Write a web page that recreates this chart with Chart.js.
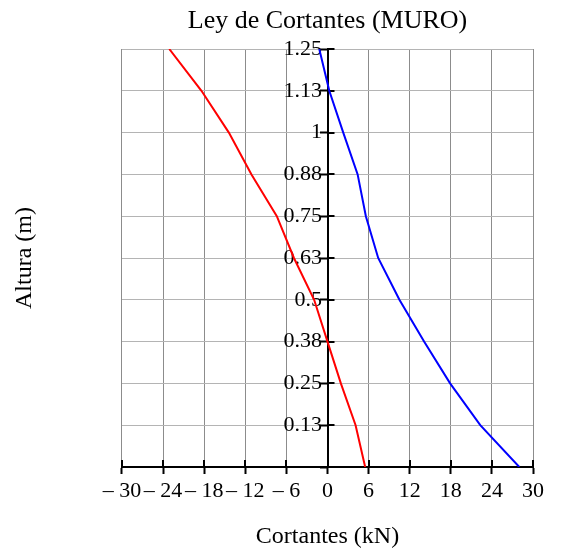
<!DOCTYPE html>
<html>
<head>
<meta charset="utf-8">
<script src="https://cdn.jsdelivr.net/npm/chart.js@4"></script>
<style>
  html, body { margin: 0; padding: 0; background: #fff; }
  #wrap { width: 566px; height: 551px; }
</style>
</head>
<body>
<div id="wrap"><canvas id="graphCortantes"></canvas></div>
<script>
    // alturas (m) y cortantes (kN)
    const alturas = [0, 0.125, 0.25, 0.375, 0.5, 0.625, 0.75, 0.875, 1.0, 1.125, 1.25]
    const cortanteRojo = [5.5, 4.1, 1.95, 0, -1.95, -4.9, -7.4, -11.1, -14.4, -18.4, -23.1]
    const cortanteAzul = [28.0, 22.3, 17.9, 14.1, 10.5, 7.4, 5.6, 4.4, 2.3, 0.26, -1.2]

    const xTickLabels = ['\u2013 30', '\u2013 24', '\u2013 18', '\u2013 12', '\u2013 6', '0', '6', '12', '18', '24', '30']
    const yTickLabels = ['', '0.13', '0.25', '0.38', '0.5', '0.63', '0.75', '0.88', '1', '1.13', '1.25']

    const toPoints = values => values.map((v, i) => ({ x: v, y: alturas[i] }))

    const serif = 'Liberation Serif, Times New Roman, serif'

    // medio tick hacia dentro del grafico (Mathcad dibuja ticks cruzados)
    const innerTicks = {
      id: 'innerTicks',
      beforeDatasetsDraw(chart) {
        const ctx = chart.ctx
        const sx = chart.scales.x
        const sy = chart.scales.y2
        const x0 = sx.getPixelForValue(0)
        const bottom = chart.chartArea.bottom
        ctx.save()
        ctx.strokeStyle = '#000'
        ctx.lineWidth = 2
        ctx.beginPath()
        sx.ticks.forEach(t => {
          const px = Math.round(sx.getPixelForValue(t.value))
          ctx.moveTo(px, bottom)
          ctx.lineTo(px, bottom - 7)
        })
        sy.ticks.forEach(t => {
          if (t.value === 0) return
          const py = Math.round(sy.getPixelForValue(t.value))
          ctx.moveTo(x0, py)
          ctx.lineTo(x0 + 7, py)
        })
        ctx.stroke()
        ctx.restore()
      }
    }

    const ctx1 = document.getElementById('graphCortantes')
    let config1 = {
      type: 'scatter',
      data: {
        datasets: [{
          label: 'Cortante 1',
          data: toPoints(cortanteRojo),
          showLine: true,
          borderColor: '#ff0000',
          borderWidth: 2,
          pointRadius: 0,
          tension: 0,
        }, {
          label: 'Cortante 2',
          data: toPoints(cortanteAzul),
          showLine: true,
          borderColor: '#0000ff',
          borderWidth: 2,
          pointRadius: 0,
          tension: 0,
        }]
      },
      options: {
        responsive: true,
        maintainAspectRatio: false,
        animation: false,
        layout: { padding: { top: 0, left: 0, right: 33, bottom: 0 } },
        plugins: {
          legend: { display: false },
          tooltip: { enabled: false },
          title: {
            display: true,
            text: 'Ley de Cortantes (MURO)',
            color: '#000',
            fullSize: false,
            font: { family: serif, size: 26, weight: 'normal' },
            padding: { top: 5.4, bottom: 12.4 }
          }
        },
        scales: {
          x: {
            type: 'linear',
            position: 'bottom',
            min: -30,
            max: 30,
            border: { display: true, color: '#000', width: 2 },
            grid: { color: '#8c8c8c', lineWidth: 1, tickColor: '#000', tickWidth: 2, tickLength: 7 },
            ticks: {
              stepSize: 6,
              autoSkip: false,
              maxRotation: 0,
              padding: 4,
              color: '#000',
              font: { family: serif, size: 22 },
              callback: (value, index) => xTickLabels[index]
            },
            title: {
              display: true,
              text: 'Cortantes (kN)',
              color: '#000',
              font: { family: serif, size: 24 },
              padding: { top: 13.8, bottom: 0 }
            }
          },
          y: {
            type: 'linear',
            position: 'left',
            min: 0,
            max: 1.25,
            border: { display: false },
            grid: { color: '#b4b4b4', lineWidth: 1, drawTicks: false },
            ticks: { stepSize: 0.125, display: false },
            title: {
              display: true,
              text: 'Altura (m)',
              color: '#000',
              font: { family: serif, size: 24 },
              padding: { top: 10.6, bottom: 82.6 }
            }
          },
          y2: {
            type: 'linear',
            position: { x: 0 },
            min: 0,
            max: 1.25,
            border: { display: true, color: '#000', width: 2 },
            grid: { drawOnChartArea: false, tickColor: '#000', tickWidth: 2, tickLength: 7 },
            ticks: {
              stepSize: 0.125,
              autoSkip: false,
              padding: 0,
              color: '#000',
              font: { family: serif, size: 22 },
              // el eje centrado no deja hueco: un espacio separa la etiqueta del eje
              callback: (value, index) => yTickLabels[index] ? yTickLabels[index] + ' ' : ''
            }
          }
        }
      },
      plugins: [innerTicks]
    }
    let chartCortantes = new Chart(ctx1, config1)
</script>
</body>
</html>
